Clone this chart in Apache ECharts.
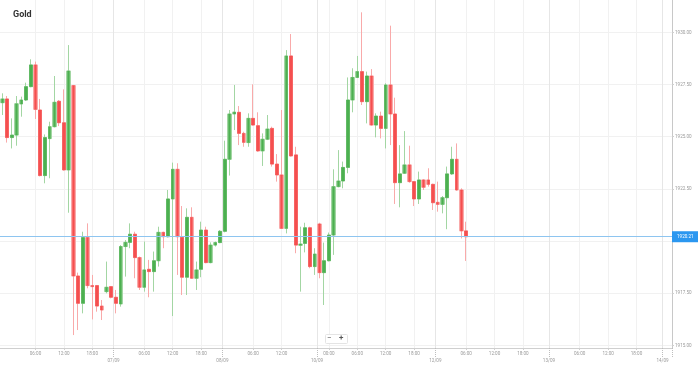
<!DOCTYPE html>
<html>
<head>
<meta charset="utf-8">
<script src="https://cdn.jsdelivr.net/npm/echarts@6/dist/echarts.min.js"></script>
<style>
html,body{margin:0;padding:0;background:#fff;}
#chart{width:698px;height:367px;}
</style>
</head>
<body>
<div id="chart"></div>
<script>
// Trading sessions shown on the category axis: [day, first hour, last hour]
const sessions = [
  ['05/09', 22, 22], ['06/09', 0, 22], ['07/09', 0, 22], ['08/09', 0, 19],
  ['10/09', 22, 23], ['11/09', 0, 22], ['12/09', 0, 23], ['13/09', 0, 23], ['14/09', 0, 1]
];
const timeLabelCats = ['06/09 06:00','06/09 12:00','06/09 18:00','07/09 06:00','07/09 12:00','07/09 18:00',
  '08/09 06:00','08/09 12:00','11/09 00:00','11/09 06:00','11/09 12:00','11/09 18:00',
  '12/09 06:00','12/09 12:00','12/09 18:00','13/09 06:00','13/09 12:00','13/09 18:00'];
const dateLabelCats = ['07/09 00:00','08/09 00:00','10/09 22:00','12/09 00:00','13/09 00:00','14/09 00:00'];
const yTickValues = [1915, 1917.5, 1920, 1922.5, 1925, 1927.5, 1930];
const lastPrice = 1920.21;

const openV = [
1926.63,1926.81,1924.96,1925.08,1926.57,1926.76,1927.40,1928.44,1926.28,1923.14,
1924.91,1925.48,1926.70,1925.67,1923.41,1927.45,1918.33,1917.02,1920.17,1917.87,
1917.87,1916.89,1917.58,1917.82,1917.31,1916.99,1919.74,1919.94,1920.33,1919.21,
1917.79,1918.65,1918.54,1919.06,1920.42,1920.21,1922.02,1923.44,1920.18,1918.27,
1921.14,1918.22,1918.65,1920.53,1918.97,1919.81,1919.93,1920.47,1923.92,1926.09,
1926.17,1925.16,1924.72,1925.88,1925.53,1924.32,1924.88,1925.40,1923.69,1923.17,
1920.61,1928.87,1924.13,1919.80,1919.89,1920.64,1918.78,1920.82,1918.49,1919.06,
1920.29,1922.61,1922.88,1923.53,1926.76,1927.84,1928.12,1926.68,1927.91,1925.56,
1925.99,1925.40,1927.48,1926.09,1922.80,1923.25,1923.65,1922.85,1922.02,1922.93,
1922.93,1922.72,1921.86,1921.76,1922.08,1923.22,1923.92,1922.45,1920.49];
const closeV = [
1926.81,1924.96,1925.08,1926.58,1926.76,1927.40,1928.44,1926.31,1923.14,1924.96,
1925.48,1926.65,1925.67,1923.41,1928.15,1918.33,1917.02,1920.17,1917.87,1917.82,
1916.89,1916.70,1917.79,1917.31,1917.02,1919.74,1919.94,1920.33,1919.21,1917.79,
1918.62,1918.54,1919.06,1920.42,1920.21,1922.02,1923.44,1920.21,1918.27,1921.14,
1918.22,1918.62,1920.53,1918.97,1919.81,1919.93,1920.47,1923.92,1926.09,1926.18,
1925.16,1924.73,1925.88,1925.56,1924.32,1924.88,1925.37,1923.69,1923.17,1920.61,
1928.87,1924.08,1919.81,1919.86,1920.64,1918.78,1919.38,1918.49,1919.06,1920.29,
1922.61,1922.88,1923.53,1926.76,1927.84,1928.12,1926.68,1927.91,1925.56,1925.99,
1925.40,1927.48,1926.09,1922.80,1923.22,1923.65,1922.85,1922.02,1922.93,1922.58,
1922.72,1921.84,1921.76,1922.08,1923.22,1923.92,1922.45,1920.49,1920.21];
const lowV = [
1926.04,1924.72,1924.44,1924.57,1925.96,1926.71,1927.37,1925.85,1923.10,1922.77,
1923.01,1925.45,1925.51,1923.38,1921.36,1915.50,1915.74,1916.54,1917.74,1916.25,
1916.62,1916.22,1917.50,1917.26,1916.54,1916.86,1918.30,1919.66,1918.22,1917.66,
1917.58,1917.31,1917.58,1918.78,1919.66,1920.18,1916.41,1918.38,1917.42,1917.42,
1918.20,1917.66,1918.27,1918.94,1918.94,1919.74,1919.90,1920.42,1923.14,1925.32,
1924.60,1924.52,1924.52,1925.54,1924.28,1923.60,1924.84,1923.57,1922.85,1920.58,
1920.37,1924.05,1919.42,1917.58,1919.46,1918.70,1918.38,1918.22,1916.94,1919.03,
1919.34,1922.58,1922.53,1923.25,1926.17,1927.81,1926.52,1925.64,1925.54,1924.97,
1924.92,1924.44,1924.60,1921.78,1921.62,1923.22,1922.80,1921.68,1921.78,1922.45,
1922.61,1921.49,1921.41,1921.33,1920.57,1923.17,1922.42,1920.13,1919.05];
const highV = [
1927.08,1926.95,1925.88,1926.95,1926.92,1927.59,1928.71,1928.60,1926.81,1925.11,
1925.72,1927.91,1926.76,1927.27,1929.39,1927.48,1918.49,1920.45,1920.85,1918.38,
1917.90,1917.18,1919.02,1917.85,1917.66,1919.81,1920.05,1920.85,1920.45,1919.26,
1919.98,1919.10,1919.50,1920.69,1920.45,1922.45,1923.76,1923.73,1921.68,1921.57,
1921.62,1919.02,1920.93,1920.69,1919.94,1919.98,1920.53,1924.81,1926.28,1927.48,
1926.47,1925.24,1926.12,1927.51,1926.17,1925.16,1926.04,1925.48,1924.17,1926.28,
1929.15,1929.92,1924.52,1920.69,1920.88,1920.69,1919.66,1920.88,1919.93,1920.41,
1923.44,1924.36,1923.81,1927.84,1928.28,1928.87,1930.96,1928.12,1928.24,1926.12,
1926.20,1927.56,1930.32,1926.87,1924.60,1925.27,1924.57,1922.88,1923.33,1922.96,
1923.49,1922.75,1922.85,1922.16,1923.57,1924.52,1924.68,1922.53,1920.93];

// Build category list
const categories = [];
sessions.forEach(function (s) {
  for (let h = s[1]; h <= s[2]; h++) {
    categories.push(s[0] + ' ' + (h < 10 ? '0' + h : '' + h) + ':00');
  }
});
const timeSet = new Set(timeLabelCats);
const dateSet = new Set(dateLabelCats);
const isTime = function (i, v) { return timeSet.has(categories[i]); };
const isDate = function (i, v) { return dateSet.has(categories[i]); };

const wickData = openV.map(function (o, i) { return [o, closeV[i], lowV[i], highV[i]]; });
const bodyData = openV.map(function (o, i) {
  return [o, closeV[i], Math.min(o, closeV[i]), Math.max(o, closeV[i])];
});

const FONT = 'Roboto, "Open Sans", sans-serif';
const chart = echarts.init(document.getElementById('chart'), null, {renderer: 'canvas'});
const slotW = 672 / categories.length;

chart.setOption({
  animation: false,
  backgroundColor: '#ffffff',
  title: {
    text: 'Gold', left: 8, top: 5,
    textStyle: {fontSize: 9, fontWeight: 'bold', color: '#333', fontFamily: FONT}
  },
  grid: {left: 0, right: 26, top: 0, bottom: 19},
  xAxis: [
    {
      type: 'category', data: categories, boundaryGap: true,
      axisLine: {show: true, lineStyle: {color: '#cfcfcf', width: 1}},
      axisTick: {show: true, alignWithLabel: true, interval: isTime, length: 2, lineStyle: {color: '#cfcfcf'}},
      axisLabel: {show: true, interval: isTime, formatter: function (v) { return v.split(' ')[1]; },
        fontSize: 4.6, color: '#9a9a9a', margin: 3, fontFamily: FONT},
      splitLine: {show: false}
    },
    {
      type: 'category', data: categories, boundaryGap: true, position: 'bottom',
      axisLine: {show: false},
      axisTick: {show: true, inside: true, alignWithLabel: true, interval: isTime, length: 348,
        lineStyle: {color: '#f1f1f1', width: 1}},
      axisLabel: {show: false}, splitLine: {show: false}
    },
    {
      type: 'category', data: categories, boundaryGap: true, position: 'bottom',
      axisLine: {show: false},
      axisTick: {show: true, interval: isDate, length: 9, lineStyle: {color: '#bdbdbd', type: 'dotted'}},
      axisLabel: {show: true, interval: isDate,
        formatter: function (v) { return '{d|' + v.split(' ')[0] + '}'; },
        rich: {d: {fontSize: 4.6, color: '#9a9a9a', fontFamily: FONT, padding: [0, slotW, 0, 0]}},
        margin: 10.5},
      splitLine: {show: true, interval: isDate, lineStyle: {color: '#e6e6e6', width: 1}}
    }
  ],
  yAxis: {
    type: 'value', position: 'right', min: 1914.88, max: 1931.55, scale: true,
    axisLine: {show: true, lineStyle: {color: '#c8c8c8'}},
    axisTick: {show: true, length: 2, customValues: yTickValues, lineStyle: {color: '#cfcfcf'}},
    axisLabel: {show: true, customValues: yTickValues, formatter: function (v) { return v.toFixed(2); },
      fontSize: 4.6, color: '#9a9a9a', margin: 3, fontFamily: FONT},
    splitLine: {show: true, lineStyle: {color: '#f1f1f1', width: 1}}
  },
  series: [
    {
      name: 'wick', type: 'candlestick', xAxisIndex: 0, data: wickData, barWidth: 3.8,
      itemStyle: {color: '#b9dfb9', color0: '#ffc4c4', borderColor: '#a3d6a3', borderColor0: '#f9aaaa', borderWidth: 1}
    },
    {
      name: 'Gold', type: 'candlestick', xAxisIndex: 0, data: bodyData, barWidth: 3.0,
      itemStyle: {color: '#4cb050', color0: '#f54f4f', borderColor: '#4cb050', borderColor0: '#f54f4f', borderWidth: 0.5},
      markLine: {
        silent: true, symbol: ['none', 'none'], animation: false,
        data: [{yAxis: lastPrice}],
        lineStyle: {color: '#8ec5f0', type: 'solid', width: 1},
        label: {show: true, position: 'end', formatter: lastPrice.toFixed(2), distance: 0,
          backgroundColor: '#2b97f0', color: '#ffffff', fontSize: 4.6, padding: [3, 5],
          fontFamily: FONT}
      }
    }
  ],
  graphic: [
    {type: 'rect', left: 325, top: 334, shape: {width: 22, height: 9, r: 1},
      style: {fill: '#ffffff', stroke: '#e4e4e4', lineWidth: 1}, z: 100},
    {type: 'text', left: 327, top: 334, style: {text: '−', fontSize: 8, fill: '#555', fontFamily: FONT}, z: 101},
    {type: 'text', left: 339, top: 334, style: {text: '+', fontSize: 8, fill: '#555', fontFamily: FONT, fontWeight: 'bold'}, z: 101}
  ]
});
</script>
</body>
</html>
